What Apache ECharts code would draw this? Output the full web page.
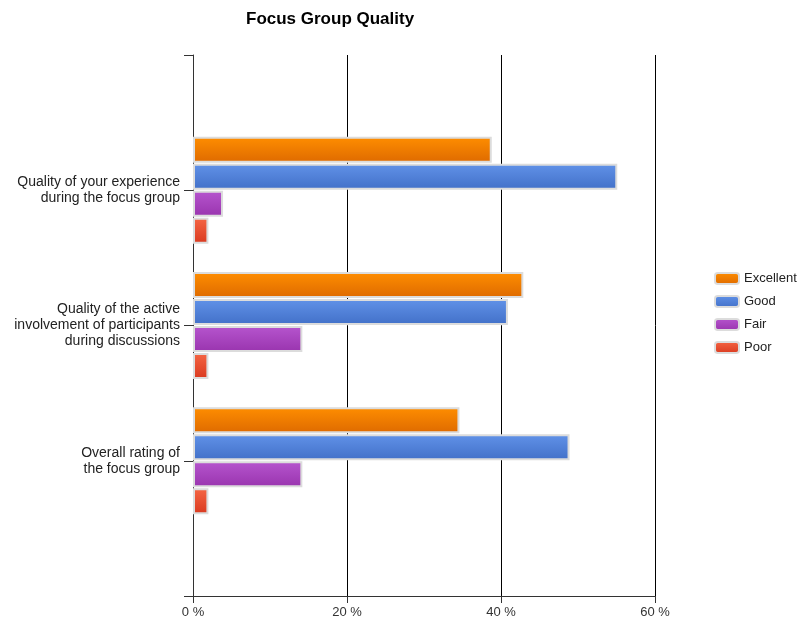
<!DOCTYPE html>
<html>
<head>
<meta charset="utf-8">
<script src="https://cdn.jsdelivr.net/npm/echarts@6/dist/echarts.min.js"></script>
<style>
html,body{margin:0;padding:0;background:#fff;}
#c{width:797px;height:621px;}
</style>
</head>
<body>
<div id="c"></div>
<script>
const categories = [
  "Quality of your experience\nduring the focus group",
  "Quality of the active\ninvolvement of participants\nduring discussions",
  "Overall rating of\nthe focus group"
];
const seriesNames = ["Excellent", "Good", "Fair", "Poor"];
const excellent = [38.8, 42.9, 34.6];
const good = [55.1, 40.9, 48.9];
const fair = [3.9, 14.2, 14.2];
const poor = [2.0, 2.0, 2.0];
const xTicks = [0, 20, 40, 60];

const colorStops = [
  ["#FF8E00", "#DE6A00"],
  ["#6192E8", "#4270C8"],
  ["#B655CE", "#9934AE"],
  ["#F56644", "#D9391F"]
];
const values = [excellent, good, fair, poor];

function grad(c) {
  return new echarts.graphic.LinearGradient(0, 0, 0, 1, [
    {offset: 0, color: c[0]}, {offset: 1, color: c[1]}
  ]);
}

const chart = echarts.init(document.getElementById('c'), null, {renderer: 'canvas'});
const font = '"Liberation Sans", Arial, sans-serif';

chart.setOption({
  animation: false,
  backgroundColor: '#fff',
  textStyle: {fontFamily: font},
  title: {
    text: 'Focus Group Quality',
    left: 241, top: 6,
    textStyle: {fontSize: 17, fontWeight: 'bold', color: '#000', fontFamily: font}
  },
  legend: {
    orient: 'vertical',
    left: 709, top: 267,
    itemWidth: 24, itemHeight: 11, itemGap: 10,
    textStyle: {fontSize: 13, color: '#222', fontFamily: font},
    data: seriesNames
  },
  grid: {left: 193, right: 142, top: 55, bottom: 25, containLabel: false},
  xAxis: {
    type: 'value',
    min: xTicks[0], max: xTicks[xTicks.length - 1], interval: 20,
    axisLine: {show: true, lineStyle: {color: '#333', width: 1}},
    axisTick: {show: true, length: 7, lineStyle: {color: '#333'}},
    axisLabel: {formatter: '{value} %', fontSize: 13, color: '#333', margin: 10, fontFamily: font},
    splitLine: {show: true, lineStyle: {color: '#000', width: 1}}
  },
  yAxis: {
    type: 'category',
    inverse: true,
    boundaryGap: false,
    data: [''].concat(categories, ['']),
    axisLine: {show: true, lineStyle: {color: '#333', width: 1}},
    axisTick: {show: true, length: 9, interval: 0, lineStyle: {color: '#333'}},
    axisLabel: {fontSize: 14, color: '#222', margin: 13, lineHeight: 16, align: 'right', interval: 0, fontFamily: font},
    splitLine: {show: false}
  },
  series: seriesNames.map((name, i) => ({
    name: name,
    type: 'bar',
    barWidth: 26,
    barGap: '4%',
    itemStyle: {color: grad(colorStops[i]), borderColor: '#dcdcdc', borderWidth: 2},
    data: [null].concat(values[i], [null])
  }))
});
</script>
</body>
</html>
